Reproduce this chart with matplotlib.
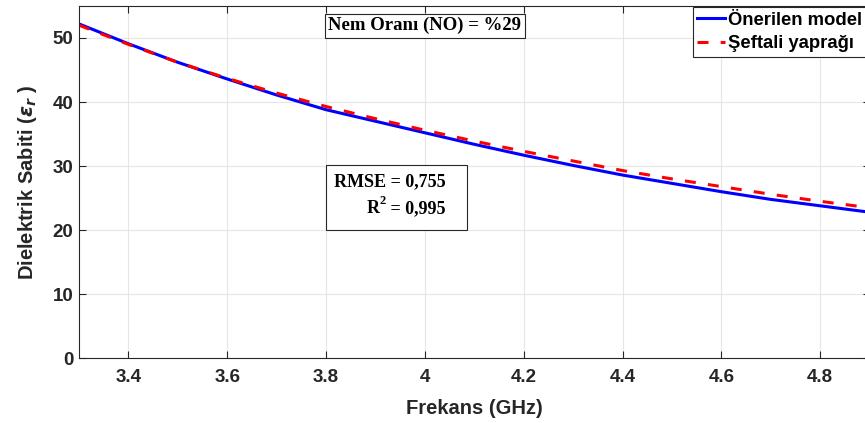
import matplotlib
matplotlib.use('Agg')
import matplotlib.pyplot as plt
from matplotlib.patches import Rectangle

# data
freq = [3.3, 3.4, 3.5, 3.6, 3.7, 3.8, 3.9, 4.0, 4.1, 4.2, 4.3, 4.4, 4.5, 4.6, 4.7, 4.8, 4.9]
model = [52.2, 49.1, 46.2, 43.6, 41.1, 38.8, 37.0, 35.2, 33.4, 31.7, 30.1, 28.6, 27.3, 26.0, 24.8, 23.8, 22.8]
peach = [52.0, 49.0, 46.2, 43.7, 41.4, 39.3, 37.4, 35.6, 33.9, 32.3, 30.8, 29.3, 28.0, 26.8, 25.6, 24.5, 23.5]
xticks = [3.4, 3.6, 3.8, 4.0, 4.2, 4.4, 4.6, 4.8]
xticklabels = ['3.4', '3.6', '3.8', '4', '4.2', '4.4', '4.6', '4.8']
yticks = [0, 10, 20, 30, 40, 50]

plt.rcParams['font.family'] = ['Liberation Sans', 'DejaVu Sans']
plt.rcParams['font.weight'] = 'bold'

fig = plt.figure(figsize=(8.65, 4.23), dpi=100)
ax = fig.add_axes([0.0912, 0.153, 0.9142, 0.833])

ax.plot(freq, model, color='#0000ff', lw=2.2, label='Önerilen model')
ax.plot(freq, peach, color='#ff0000', lw=2.2, ls=(0, (3.6, 4.0)), label='Şeftali yaprağı')

ax.set_xlim(3.3, 4.9)
ax.set_ylim(0, 55)
ax.set_xticks(xticks)
ax.set_xticklabels(xticklabels)
ax.set_yticks(yticks)
ax.tick_params(direction='in', length=5, width=0.8, colors='#262626',
               labelsize=13.5, top=True, right=True)
ax.tick_params(axis='x', pad=8)
ax.tick_params(axis='y', pad=4)
for lab in ax.get_xticklabels() + ax.get_yticklabels():
    lab.set_fontweight('bold')
for s in ax.spines.values():
    s.set_color('#262626')
    s.set_linewidth(0.8)
ax.grid(True, color='#e6e6e6', lw=0.8)
ax.set_axisbelow(True)

ax.set_xlabel('Frekans (GHz)', fontsize=14.5, fontweight='bold', color='#262626', labelpad=9)
ax.set_ylabel(r'Dielektrik Sabiti ($\epsilon_r$ )', fontsize=14.5, fontweight='bold', color='#262626', labelpad=10)

leg = ax.legend(loc='upper right', bbox_to_anchor=(0.996, 0.997), fontsize=13.3,
                fancybox=False, edgecolor='#262626', framealpha=1,
                borderaxespad=0, handlelength=1.5, handletextpad=0.15,
                borderpad=0.25, labelspacing=0.35)
leg.get_frame().set_linewidth(0.8)

serif = ['Liberation Serif', 'DejaVu Serif']
ax.text(4.0, 51.9, 'Nem Oranı (NO) = %29', family=serif, fontsize=13.5, fontweight='bold',
        ha='center', va='center',
        bbox=dict(boxstyle='square,pad=0.18', fc='white', ec='#262626', lw=0.8))

# RMSE / R^2 box
ax.add_patch(Rectangle((3.8, 20.0), 0.285, 10.1, fc='white', ec='#262626', lw=0.8, zorder=3))
ax.text(4.042, 26.8, 'RMSE = 0,755', family=serif, fontsize=13, fontweight='bold',
        ha='right', va='baseline', zorder=4)
t_val = ax.text(4.042, 22.6, ' = 0,995', family=serif, fontsize=13, fontweight='bold',
                ha='right', va='baseline', zorder=4)
t_sup = ax.annotate('2', xy=(0, 0.62), xycoords=t_val, family=serif, fontsize=9,
                    fontweight='bold', ha='right', va='bottom', zorder=4)
ax.annotate('R', xy=(0, 0), xycoords=(t_sup, t_val), family=serif, fontsize=13,
            fontweight='bold', ha='right', va='bottom', zorder=4)

fig.savefig('out.png', dpi=100)
